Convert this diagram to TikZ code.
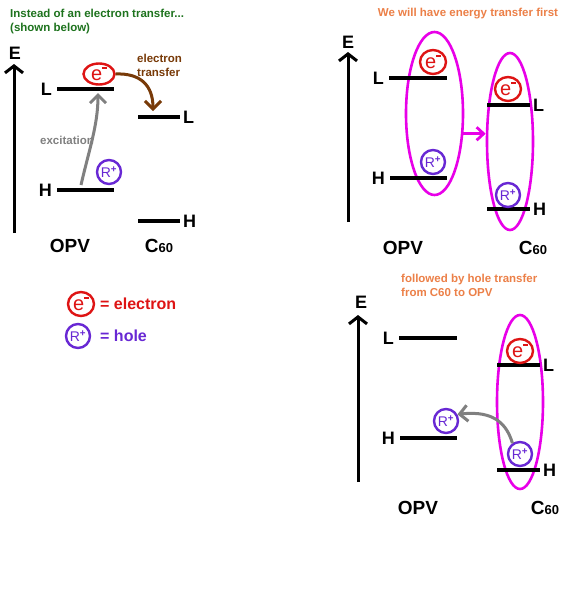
\documentclass[tikz,border=0pt]{standalone}
\usepackage{fontspec}
\setmainfont{Liberation Sans}
\usetikzlibrary{shapes.geometric, positioning, arrows.meta}

\definecolor{titlegreen}{RGB}{30,115,30}
\definecolor{titleorange}{RGB}{236,128,72}
\definecolor{etbrown}{RGB}{120,58,8}
\definecolor{excgray}{RGB}{128,128,128}
\definecolor{elecred}{RGB}{222,20,20}
\definecolor{holepurple}{RGB}{104,40,212}
\definecolor{bandmag}{RGB}{232,0,232}

\newcommand{\minusup}{\raisebox{0.6em}{\rule{0.24em}{0.1em}}}
\newcommand{\plusup}{\textsuperscript{\bfseries +}}
\newcommand{\Csixty}{C{\fontsize{13}{13}\selectfont 60}}

\begin{document}
\begin{tikzpicture}[x=1pt,y=-1pt,node distance=5pt,
	level/.style={line width=3.2pt},
	lvl/.style={inner sep=0pt,font=\fontsize{18}{18}\selectfont\bfseries},
	mol/.style={inner sep=0pt,font=\fontsize{19}{19}\selectfont\bfseries},
	note/.style={inner sep=0pt,font=\fontsize{11.5}{14}\selectfont\bfseries,align=left},
	key/.style={inner sep=0pt,anchor=west,font=\fontsize{16}{16}\selectfont\bfseries},
	elec/.style={ellipse,draw=elecred,text=elecred,line width=2.4pt,minimum width=26pt,minimum height=24pt,inner sep=0pt,font=\fontsize{20}{20}\selectfont},
	hole/.style={circle,draw=holepurple,text=holepurple,line width=2.4pt,minimum size=24pt,inner sep=0pt,font=\fontsize{14}{14}\selectfont},
	band/.style={ellipse,draw=bandmag,line width=2.6pt},
	axis/.style={line width=3pt,-{Straight Barb[length=7pt,width=18pt]}},
	excite/.style={draw=excgray,line width=3pt},
	>={Straight Barb[length=8pt,width=16pt]}]
	\useasboundingbox[fill=white] (0,0) rectangle (583,600);

	% instead of an electron transfer
	\node[note,text=titlegreen,anchor=north west] (introA) at (10,9) {Instead of an electron transfer...\\(shown below)};
	\coordinate (aBot) at (14,233);
	\coordinate (aTop) at (14,64);
	\draw[axis] (aBot) -- (aTop);
	\node[lvl] (aE) at (15,53) {E};
	\draw[level] (57,89) coordinate (aL1) -- (114,89);
	\draw[level] (57,190) coordinate (aH1) -- (114,190);
	\draw[level] (138,117) -- (180,117) coordinate (aL2);
	\draw[level] (138,221) -- (180,221) coordinate (aH2);
	\node[lvl,left=of aL1] (aL1lab) {L};
	\node[lvl,left=of aH1] (aH1lab) {H};
	\node[lvl,right=3pt of aL2] (aL2lab) {L};
	\node[lvl,right=3pt of aH2] (aH2lab) {H};
	\node[mol] (aOPV) at (70,246) {OPV};
	\node[mol] (aC60) at (159,246) {\Csixty};
	\node[elec,minimum width=31pt,minimum height=21pt] (aEl) at (99,74) {e\minusup};
	\node[hole] (aHo) at (109,172) {R\plusup};
	\coordinate (exS) at (81,185);
	\coordinate (exT) at (98,93);
	\draw[excite,->] (exS) .. controls (89,150) and (98,125) .. (exT);
	\node[note,text=excgray] (exLab) at (67,140) {excitation};
	\coordinate (etT) at (153,111);
	\draw[draw=etbrown,line width=3pt,->] (aEl.east) .. controls (140,73) and (153,85) .. (etT);
	\node[note,text=etbrown,anchor=north west] (etLab) at (137,54) {electron\\transfer};

	% key
	\node[elec] (keyE) at (81,304) {e\minusup};
	\node[key,text=elecred] (keyElab) at (100,304) {= electron};
	\node[hole] (keyH) at (78,336) {R\plusup};
	\node[key,text=holepurple] (keyHlab) at (100,336) {= hole};

	% energy transfer
	\node[note,text=titleorange] (introB) at (468,14) {We will have energy transfer first};
	\coordinate (bBot) at (348,222);
	\coordinate (bTop) at (348,52);
	\draw[axis] (bBot) -- (bTop);
	\node[lvl] (bE) at (348,42) {E};
	\node[band,minimum width=57pt,minimum height=163pt] (bOPV) at (434.5,113.5) {};
	\node[band,minimum width=46pt,minimum height=177pt] (bC60) at (510,141.5) {};
	\draw[level] (389,78) coordinate (bL1) -- (447,78);
	\draw[level] (390,178) coordinate (bH1) -- (447,178);
	\draw[level] (487,105) -- (530,105) coordinate (bL2);
	\draw[level] (487,209) -- (530,209) coordinate (bH2);
	\node[lvl,left=of bL1] (bL1lab) {L};
	\node[lvl,left=of bH1] (bH1lab) {H};
	\node[lvl,right=3pt of bL2] (bL2lab) {L};
	\node[lvl,right=3pt of bH2] (bH2lab) {H};
	\node[elec] (bEl1) at (433,62) {e\minusup};
	\node[hole] (bHo1) at (433,162) {R\plusup};
	\node[elec] (bEl2) at (508,89) {e\minusup};
	\node[hole] (bHo2) at (508,195) {R\plusup};
	\draw[draw=bandmag,line width=2.8pt,-{Straight Barb[length=7pt,width=13pt]}] (bOPV.-35) -- (bOPV.-35 -| bC60.west);
	\node[mol] (bOPVlab) at (403,248) {OPV};
	\node[mol] (bC60lab) at (533,248) {\Csixty};

	% hole transfer
	\node[note,text=titleorange,anchor=north west] (introC) at (401,274) {followed by hole transfer\\from C60 to OPV};
	\coordinate (cBot) at (358,482);
	\coordinate (cTop) at (358,315);
	\draw[axis] (cBot) -- (cTop);
	\node[lvl] (cE) at (361,302) {E};
	\node[band,minimum width=46pt,minimum height=174pt] (cC60) at (520,402) {};
	\draw[level] (399,338) coordinate (cL1) -- (457,338);
	\draw[level] (400,438) coordinate (cH1) -- (457,438);
	\draw[level] (497,365) -- (540,365) coordinate (cL2);
	\draw[level] (497,470) -- (540,470) coordinate (cH2);
	\node[lvl,left=of cL1] (cL1lab) {L};
	\node[lvl,left=of cH1] (cH1lab) {H};
	\node[lvl,right=3pt of cL2] (cL2lab) {L};
	\node[lvl,right=3pt of cH2] (cH2lab) {H};
	\node[hole] (cHo1) at (446,421) {R\plusup};
	\node[elec] (cEl2) at (520,351) {e\minusup};
	\node[hole] (cHo2) at (520,454) {R\plusup};
	\draw[excite,->] (cHo2.125) .. controls (507,425) and (495,410) .. (cHo1.30);
	\node[mol] (cOPVlab) at (418,508) {OPV};
	\node[mol] (cC60lab) at (545,508) {\Csixty};
\end{tikzpicture}
\end{document}
